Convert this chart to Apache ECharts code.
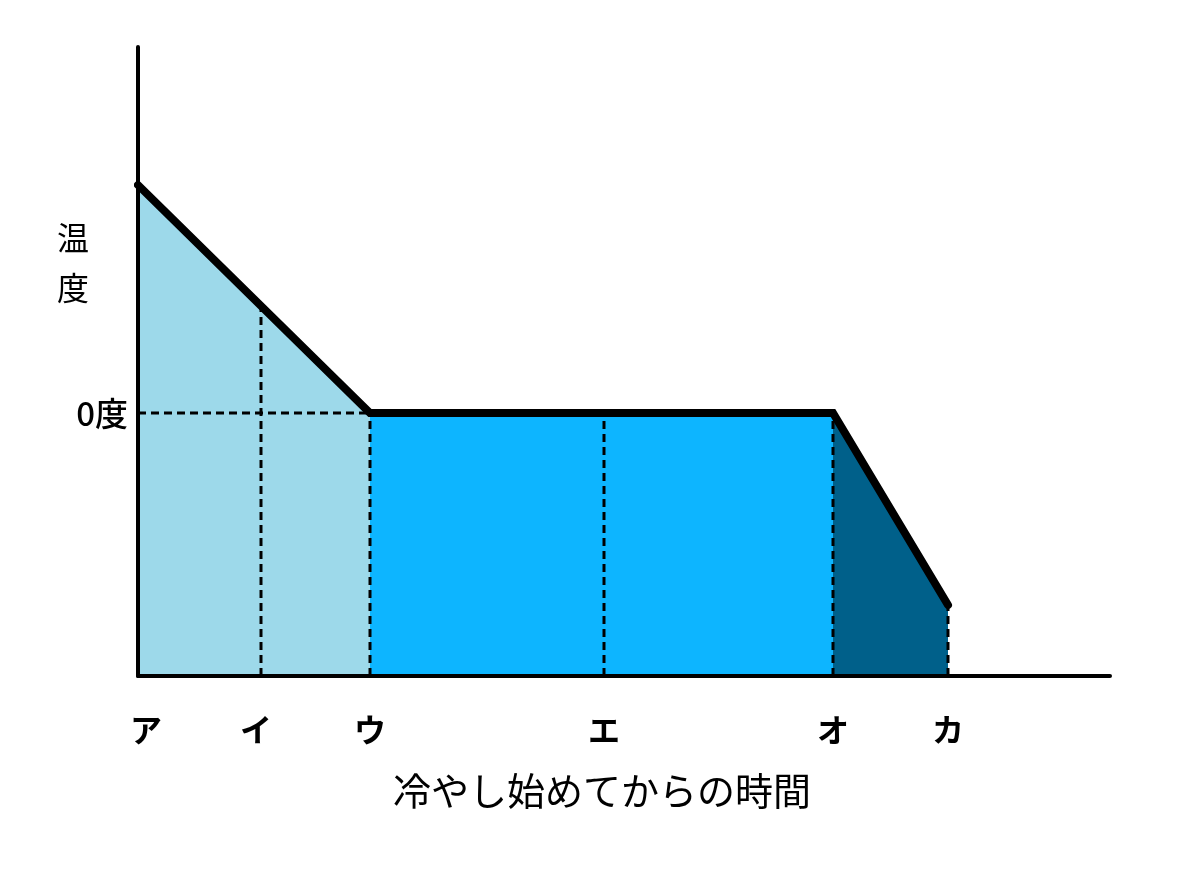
<!DOCTYPE html>
<html>
<head>
<meta charset="utf-8">
<title>冷やし始めてからの時間と温度</title>
<script src="https://cdn.jsdelivr.net/npm/echarts@6/dist/echarts.min.js"></script>
<style>
  html, body { margin: 0; padding: 0; background: #fff; }
  #chart { width: 1200px; height: 884px; }
</style>
</head>
<body>
<div id="chart"></div>
<script>
// time positions of the marked moments (arbitrary units) and their labels
var timeTicks = [0, 123, 232, 466, 695, 810];
var tickLabels = ['ア', 'イ', 'ウ', 'エ', 'オ', 'カ'];

// temperature (0 = 0度)
var tempLine = [[0, 228], [232, 0], [695, 0], [810, -192]];
var stageCool = [[0, 228], [232, 0]];      // 水が冷える
var stageFreeze = [[232, 0], [695, 0]];    // こおっている間
var stageIce = [[695, 0], [810, -192]];    // 氷が冷える

// dashed guides
var guideX = [123, 232, 466, 695, 810];
var guideTop = [108, 0, 0, 0, -192];
var tempMin = -263, tempMax = 366, timeMax = 972;

var chart = echarts.init(document.getElementById('chart'));

var dash = { color: '#000', width: 3, type: [8, 5] };
var guideSeries = [];
for (var i = 0; i < guideX.length; i++) {
    guideSeries.push({
        type: 'line',
        data: [[guideX[i], tempMin], [guideX[i], guideTop[i]]],
        symbol: 'none',
        z: 3,
        lineStyle: dash
    });
}
// horizontal 0度 guide
guideSeries.push({
    type: 'line',
    data: [[0, 0], [232, 0]],
    symbol: 'none',
    z: 3,
    lineStyle: dash
});

function fill(data, color) {
    return {
        type: 'line',
        data: data,
        symbol: 'none',
        z: 1,
        lineStyle: { width: 0 },
        areaStyle: { color: color, opacity: 1, origin: 'start' }
    };
}

var option = {
    animation: false,
    backgroundColor: '#fff',
    title: [
        {
            text: '温\n度',
            left: 52, top: 208,
            textStyle: { fontFamily: 'Noto Sans CJK JP', fontWeight: 'normal', fontSize: 32, lineHeight: 50, color: '#000' }
        },
        {
            text: '冷やし始めてからの時間',
            left: 388, top: 767,
            textStyle: { fontFamily: 'Noto Sans CJK JP', fontWeight: 'normal', fontSize: 38, color: '#000' }
        }
    ],
    grid: { left: 138, right: 90, top: 47, bottom: 208 },
    xAxis: {
        type: 'value',
        min: 0, max: timeMax,
        z: 5,
        splitLine: { show: false },
        axisTick: { show: false },
        axisLine: { onZero: false, lineStyle: { color: '#000', width: 4 } },
        axisLabel: {
            customValues: timeTicks,
            margin: 38,
            color: '#000',
            formatter: function (v) {
                var k = timeTicks.indexOf(v);
                if (k < 0) return '';
                if (k === 0) return '{r|' + tickLabels[k] + '}';
                if (k === 1) return '{l|' + tickLabels[k] + '}';
                return '{c|' + tickLabels[k] + '}';
            },
            rich: {
                c: { fontFamily: 'Noto Sans CJK JP', fontWeight: 'bold', fontSize: 32, color: '#000' },
                r: { fontFamily: 'Noto Sans CJK JP', fontWeight: 'bold', fontSize: 32, color: '#000', padding: [0, 0, 0, 16] },
                l: { fontFamily: 'Noto Sans CJK JP', fontWeight: 'bold', fontSize: 32, color: '#000', padding: [0, 10, 0, 0] }
            }
        }
    },
    yAxis: {
        type: 'value',
        min: tempMin, max: tempMax,
        z: 5,
        splitLine: { show: false },
        axisTick: { show: false },
        axisLine: { onZero: false, lineStyle: { color: '#000', width: 4 } },
        axisLabel: {
            customValues: [0],
            margin: 10,
            fontFamily: 'Noto Sans CJK JP',
            fontWeight: 500,
            fontSize: 33,
            color: '#000',
            formatter: function () { return '0度'; }
        }
    },
    series: [
        fill(stageCool, '#9dd9ea'),
        fill(stageFreeze, '#0db5ff'),
        fill(stageIce, '#00608a')
    ].concat(guideSeries).concat([
        {
            type: 'line',
            data: tempLine,
            symbol: 'none',
            z: 4,
            lineStyle: { color: '#000', width: 8, cap: 'round', join: 'miter' }
        }
    ])
};

chart.setOption(option);
</script>
</body>
</html>
